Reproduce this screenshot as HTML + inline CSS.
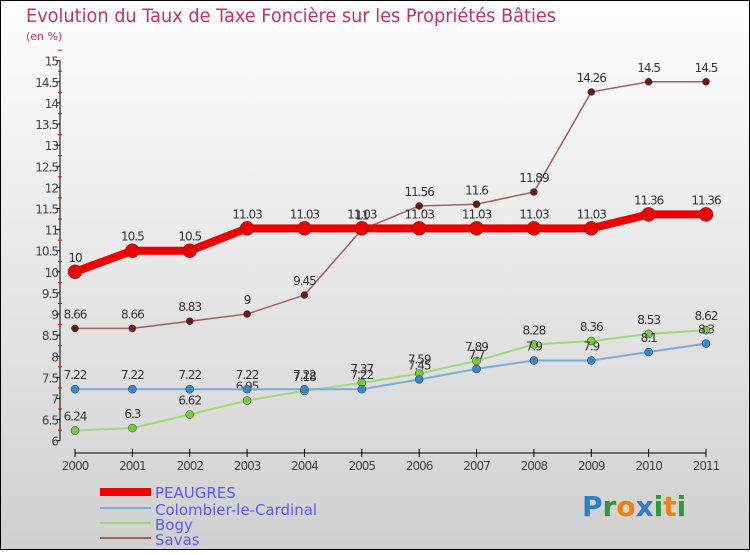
<!DOCTYPE html>
<html><head><meta charset="utf-8"><style>
body{margin:0}
svg text{font-family:"DejaVu Sans","Liberation Sans",sans-serif}
</style></head><body>
<svg width="750" height="550" xmlns="http://www.w3.org/2000/svg">
<defs><linearGradient id="bg" x1="0" y1="0" x2="0" y2="1"><stop offset="0" stop-color="#fefefe"/><stop offset="1" stop-color="#d0d0d0"/></linearGradient></defs>
<rect x="0" y="0" width="750" height="550" fill="url(#bg)" stroke="#000" stroke-width="2"/>
<text x="26" y="22" font-size="19" fill="#c8306a" textLength="530" lengthAdjust="spacingAndGlyphs">Evolution du Taux de Taxe Foncière sur les Propriétés Bâties</text>
<text x="26" y="40" font-size="11" fill="#c8306a">(en %)</text>
<g id="axes"></g><g id="series"></g>
<g font-size="15" fill="#5555ff">
<line x1="100" y1="492" x2="151" y2="492" stroke="#ee0000" stroke-width="8"/>
<text x="155" y="498" fill="#5a5aff">PEAUGRES</text>
<line x1="100" y1="508" x2="151" y2="508" stroke="#7aaed8" stroke-width="2"/>
<text x="155" y="515" fill="#5a5aff">Colombier-le-Cardinal</text>
<line x1="100" y1="523" x2="151" y2="523" stroke="#99dd77" stroke-width="2"/>
<text x="155" y="530" fill="#5a5aff">Bogy</text>
<line x1="100" y1="538" x2="151" y2="538" stroke="#a06060" stroke-width="2"/>
<text x="155" y="545" fill="#5a5aff">Savas</text>
</g>
<g font-size="28" font-weight="bold">
<text x="582" y="516"><tspan fill="#2a7fd0">P</tspan><tspan fill="#2a9a3a">r</tspan><tspan fill="#f08010">o</tspan><tspan fill="#2a7fd0">x</tspan><tspan fill="#2a9a3a">i</tspan><tspan fill="#f08010">t</tspan><tspan fill="#2a9a3a">i</tspan></text>
</g>
</svg>
<script>
const years=["2000","2001","2002","2003","2004","2005","2006","2007","2008","2009","2010","2011"];
const yTicks=[6,6.5,7,7.5,8,8.5,9,9.5,10,10.5,11,11.5,12,12.5,13,13.5,14,14.5,15];
const peaugres=[10,10.5,10.5,11.03,11.03,11.03,11.03,11.03,11.03,11.03,11.36,11.36];
const colombier=[7.22,7.22,7.22,7.22,7.22,7.22,7.45,7.7,7.9,7.9,8.1,8.3];
const bogy=[6.24,6.3,6.62,6.95,7.18,7.37,7.59,7.89,8.28,8.36,8.53,8.62];
const savas=[8.66,8.66,8.83,9,9.45,11,11.56,11.6,11.89,14.26,14.5,14.5];
const NS="http://www.w3.org/2000/svg";
const X=i=>75+i*(706-75)/11;
const Y=v=>440.7-(v-6)*(440.7-60.7)/9;
function mk(t,a,p){const e=document.createElementNS(NS,t);for(const k in a)e.setAttribute(k,a[k]);p.appendChild(e);return e;}
const ax=document.getElementById('axes');
let yl=mk('line',{x1:60,y1:Y(15),x2:60,y2:Y(6),stroke:'#000'},ax);


yTicks.forEach(v=>{
 let t=mk('line',{x1:56,y1:Y(v),x2:60,y2:Y(v),stroke:'#000'},ax);
 
 
 let r=mk('line',{x1:58,y1:Y(v+0.25),x2:62,y2:Y(v+0.25),stroke:'#e00'},ax);
 
 
 let l=mk('text',{x:58,y:Y(v)+5,'font-size':12,fill:'#444','text-anchor':'end','letter-spacing':'-1'},ax);
 l.textContent=v;
 
 
});
let xl=mk('line',{x1:X(0),y1:453,x2:X(11),y2:453,stroke:'#000'},ax);


years.forEach((y,i)=>{
 let t=mk('line',{x1:X(i),y1:449,x2:X(i),y2:457,stroke:'#000'},ax);
 
 
 let l=mk('text',{x:X(i),y:470,'font-size':12,fill:'#444','text-anchor':'middle','letter-spacing':'-1'},ax);
 l.textContent=y;
 
 
});
const sg=document.getElementById('series');
function draw(vals,name,color,w,r,dot){
 const g=mk('g',{},sg);
 
 
 let pl=mk('polyline',{points:vals.map((v,i)=>X(i)+','+Y(v)).join(' '),fill:'none',stroke:color,'stroke-width':w},g);
 
 
 vals.forEach((v,i)=>{
  let c=mk('circle',{cx:X(i),cy:Y(v),r:r,fill:dot,stroke:'#333','stroke-width':0.5},g);
  
  
  let t=mk('text',{x:X(i),y:Y(v)-10,'font-size':12,fill:'#333','text-anchor':'middle','letter-spacing':'-1'},g);
  t.textContent=v;
  
  
 });
}
draw(bogy,'bogy','#99dd77',2,4,'#77cc33');
draw(colombier,'colombier','#7aaed8',2,4,'#3388cc');
draw(savas,'savas','#a06060',1.5,3.5,'#661a1a');
draw(peaugres,'peaugres','#ee0000',8,7,'#ee0000');
</script>
</body></html>
